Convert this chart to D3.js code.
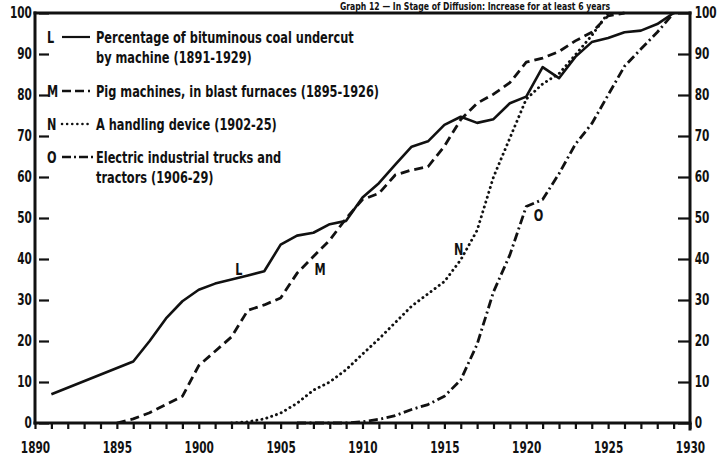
<!DOCTYPE html>
<html>
<head>
<meta charset="utf-8">
<script src="https://cdn.jsdelivr.net/npm/d3@7"></script>
<style>
  body { margin: 0; background: #fff; }
  svg text { font-family: "DejaVu Sans Condensed", "DejaVu Sans", sans-serif; font-weight: bold; fill: #111; }
</style>
</head>
<body>
<div id="chart"></div>
<script>
// DATA
const yearsL = d3.range(1891, 1930).filter(y => y === 1891 || y >= 1896);
const valuesL = [7, 15, 20, 25.5, 29.7, 32.5, 34, 35, 36, 37, 43.5, 45.7, 46.4, 48.5, 49.3, 55, 58.5, 63, 67.4, 68.7, 72.7, 74.7, 73.2, 74.1, 78, 79.6, 86.8, 84.1, 89.3, 92.9, 93.9, 95.3, 95.7, 97.3, 100];

const yearsM = d3.range(1895, 1927);
const valuesM = [0, 1, 2.5, 4.5, 6.5, 14, 17.5, 21, 27.5, 28.8, 30.5, 36.5, 40.6, 44.6, 49.9, 54.5, 56, 60.5, 61.7, 62.5, 67.5, 74, 78, 80.2, 83, 88, 89, 90.6, 93.2, 95.3, 99.3, 100];

const yearsN = d3.range(1902, 1926);
const valuesN = [0, 0.3, 1, 2.4, 4.8, 8, 10, 13, 16.8, 20.5, 24.5, 28.5, 31.5, 34.5, 39.8, 47, 60, 69.5, 79, 82.7, 85.2, 89.8, 94.5, 100];

const yearsO = d3.range(1906, 1930);
const valuesO = [0, 0, 0, 0, 0.3, 0.9, 1.8, 3.3, 4.5, 6.5, 10.5, 19.2, 32, 41, 52.8, 54.5, 60.8, 68, 73, 80, 87, 91.2, 95.3, 100];

const legendLabels = [
  ["Percentage of bituminous coal undercut", "by machine (1891-1929)"],
  ["Pig machines, in blast furnaces (1895-1926)"],
  ["A handling device (1902-25)"],
  ["Electric industrial trucks and", "tractors (1906-29)"]
];
const seriesKeys = ["L", "M", "N", "O"];
const yTicks = d3.range(0, 101, 10);
const xTicks = d3.range(1890, 1931, 5);
const titleText = "Graph 12 \u2014 In Stage of Diffusion: Increase for at least 6 years";

// CONST and GLOBALS
const width = 720, height = 458;
const margin = { top: 13, bottom: 35, left: 35, right: 30 };
const squeeze = "scale(0.78,1)"; // the scan's lettering is tall and narrow

const svg = d3.select("#chart").append("svg")
  .attr("width", width)
  .attr("height", height);

const xScale = d3.scaleLinear().domain([1890, 1930]).range([margin.left, width - margin.right]);
const yScale = d3.scaleLinear().domain([0, 100]).range([height - margin.bottom, margin.top]);

// line styles for each series
const styles = {
  L: { dash: null, width: 2.6, cap: "butt" },
  M: { dash: "9,5", width: 2.8, cap: "butt" },
  N: { dash: "0.1,5", width: 2.9, cap: "round" },
  O: { dash: "9,3.5,2,3.5", width: 2.8, cap: "butt" }
};

const series = [
  { key: "L", data: yearsL.map((y, i) => ({ year: y, value: valuesL[i] })) },
  { key: "M", data: yearsM.map((y, i) => ({ year: y, value: valuesM[i] })) },
  { key: "N", data: yearsN.map((y, i) => ({ year: y, value: valuesN[i] })) },
  { key: "O", data: yearsO.map((y, i) => ({ year: y, value: valuesO[i] })) }
];

// title, squeezed into the strip above the frame
svg.append("g")
  .attr("transform", `translate(475,9.5) ${squeeze}`)
  .append("text")
  .attr("text-anchor", "middle")
  .style("font-size", "11px")
  .text(titleText);

// AXES
const yLeft = d3.axisLeft(yScale).tickValues(yTicks).tickSize(-10).tickPadding(4);
const yRight = d3.axisRight(yScale).tickValues(yTicks).tickSize(-12).tickPadding(16);
const xAxis = d3.axisBottom(xScale).ticks(40).tickSize(6).tickFormat(d => xTicks.includes(d) ? d : "").tickPadding(13);

function styleAxis(g) {
  g.select(".domain").remove();
  g.selectAll(".tick line").attr("stroke", "#111").attr("stroke-width", 2.2);
  g.selectAll(".tick text").style("font-size", "15px").attr("transform", squeeze);
}

svg.append("g")
  .attr("transform", `translate(${margin.left},0)`)
  .call(yLeft)
  .call(styleAxis)
  .selectAll(".tick line").attr("transform", "translate(4,0)");

svg.append("g")
  .attr("transform", `translate(${width - margin.right},0)`)
  .call(yRight)
  .call(styleAxis)
  .selectAll(".tick text").attr("text-anchor", "start").attr("x", 6);

svg.append("g")
  .attr("transform", `translate(0,${yScale(0)})`)
  .call(xAxis)
  .call(styleAxis);

// frame: left, right, bottom, top
const frame = [
  [xScale(1890), yScale(0), xScale(1890), yScale(100)],
  [xScale(1930), yScale(0) + 6, xScale(1930), yScale(100)],
  [xScale(1890), yScale(0), xScale(1930), yScale(0)],
  [xScale(1890), yScale(100), xScale(1930), yScale(100)]
];
svg.selectAll(".frame")
  .data(frame)
  .join("line")
  .attr("class", "frame")
  .attr("x1", d => d[0]).attr("y1", d => d[1])
  .attr("x2", d => d[2]).attr("y2", d => d[3])
  .attr("stroke", "#111")
  .attr("stroke-width", 3)
  .attr("stroke-linecap", "square");

// LINES
const line = d3.line()
  .x(d => xScale(d.year))
  .y(d => yScale(d.value));

svg.selectAll(".series")
  .data(series)
  .join("path")
  .attr("class", "series")
  .attr("fill", "none")
  .attr("stroke", "#111")
  .attr("stroke-width", d => styles[d.key].width)
  .attr("stroke-dasharray", d => styles[d.key].dash)
  .attr("stroke-linecap", d => styles[d.key].cap)
  .attr("stroke-linejoin", "round")
  .attr("d", d => line(d.data));

// letters beside the curves
const curveLabels = [
  { key: "L", year: 1902.44, value: 36 },
  { key: "M", year: 1907.41, value: 36 },
  { key: "N", year: 1915.87, value: 41 },
  { key: "O", year: 1920.75, value: 49.3 }
];
svg.selectAll(".curve-label")
  .data(curveLabels)
  .join("g")
  .attr("class", "curve-label")
  .attr("transform", d => `translate(${xScale(d.year)},${yScale(d.value)}) ${squeeze}`)
  .append("text")
  .attr("text-anchor", "middle")
  .style("font-size", "16px")
  .text(d => d.key);

// LEGEND
const legendRows = [37, 91, 124, 157];
const legend = svg.selectAll(".legend")
  .data(seriesKeys)
  .join("g")
  .attr("class", "legend")
  .attr("transform", (d, i) => `translate(47,${legendRows[i]})`);

legend.append("g")
  .attr("transform", `translate(0,6) ${squeeze}`)
  .append("text")
  .style("font-size", "16px")
  .text(d => d);

legend.append("line")
  .attr("x1", 15)
  .attr("x2", d => d === "O" ? 48 : 43)
  .attr("y1", 0).attr("y2", 0)
  .attr("stroke", "#111")
  .attr("stroke-width", d => styles[d].width - 0.4)
  .attr("stroke-dasharray", d => d === "M" ? "9,4" : d === "O" ? "9,3,2,3" : styles[d].dash)
  .attr("stroke-linecap", d => styles[d].cap);

legend.each(function (d, i) {
  const g = d3.select(this);
  legendLabels[i].forEach((t, j) => {
    g.append("g")
      .attr("transform", `translate(49,${6 + j * 19.5}) scale(0.79,1)`)
      .append("text")
      .style("font-size", "16px")
      .text(t);
  });
});
</script>
</body>
</html>
